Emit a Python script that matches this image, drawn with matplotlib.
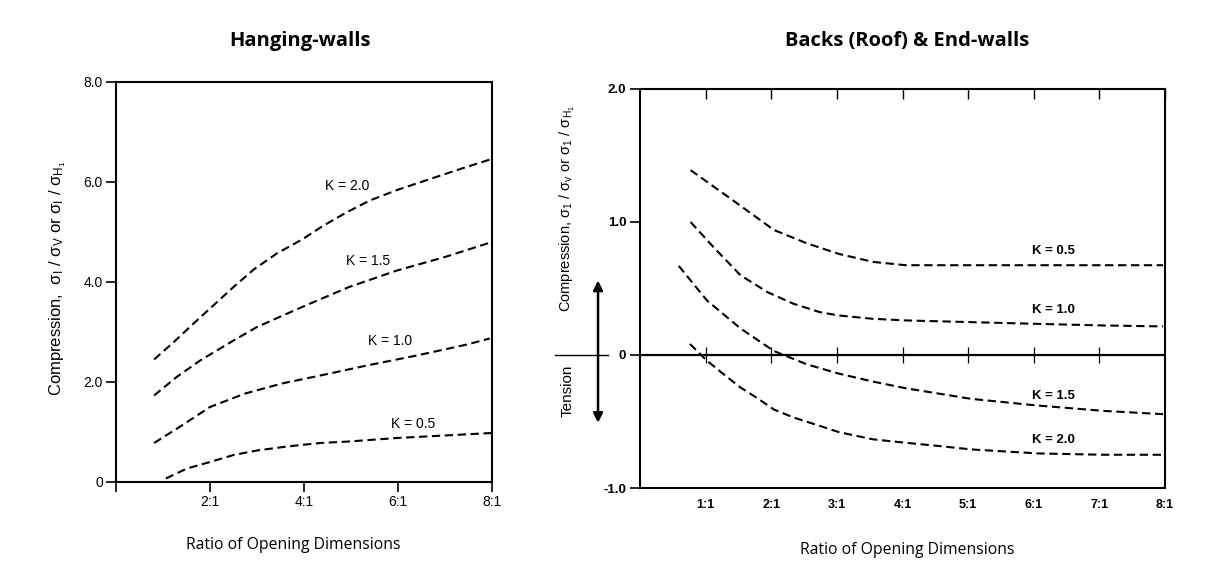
import numpy as np
import matplotlib.pyplot as plt

plt.rcParams['font.family'] = ['Liberation Sans', 'DejaVu Sans']
plt.rcParams['mathtext.fontset'] = 'custom'
plt.rcParams['mathtext.rm'] = 'Liberation Sans'
plt.rcParams['mathtext.it'] = 'Liberation Sans:italic'
plt.rcParams['mathtext.default'] = 'regular'

# --- hanging-walls ---
hw_x_k20 = [0.81, 1.23, 1.65, 2.0, 2.5, 2.93, 3.42, 3.96, 4.4, 4.92, 5.4, 5.98, 6.62, 7.26, 7.96]
hw_k20 = [2.45, 2.80, 3.17, 3.47, 3.90, 4.25, 4.57, 4.85, 5.12, 5.40, 5.63, 5.84, 6.04, 6.24, 6.45]
hw_x_k15 = [0.81, 1.29, 1.79, 2.5, 3.0, 3.96, 4.96, 5.98, 7.0, 8.0]
hw_k15 = [1.73, 2.10, 2.43, 2.83, 3.10, 3.50, 3.90, 4.23, 4.50, 4.80]
hw_x_k10 = [0.81, 1.4, 2.0, 2.75, 3.53, 4.35, 5.34, 6.4, 7.47, 7.95]
hw_k10 = [0.78, 1.13, 1.50, 1.77, 1.97, 2.13, 2.33, 2.53, 2.75, 2.87]
hw_x_k05 = [1.06, 1.51, 2.0, 2.5, 3.0, 3.64, 4.35, 4.96, 5.98, 7.0, 8.0]
hw_k05 = [0.07, 0.27, 0.40, 0.54, 0.63, 0.71, 0.78, 0.81, 0.88, 0.93, 0.98]
hw_labels = ['K = 2.0', 'K = 1.5', 'K = 1.0', 'K = 0.5']
hw_xticks = [0, 2, 4, 6, 8]
hw_xticklabels = ['', '2:1', '4:1', '6:1', '8:1']
hw_yticks = [0, 2, 4, 6, 8]
hw_yticklabels = ['0', '2.0', '4.0', '6.0', '8.0']

# --- backs (roof) & end-walls ---
bk_x_k05 = [0.77, 1.41, 2.04, 2.54, 3.03, 3.55, 4.05, 5, 6, 7, 7.97]
bk_k05 = [1.39, 1.165, 0.94, 0.84, 0.76, 0.70, 0.675, 0.675, 0.675, 0.675, 0.675]
bk_x_k10 = [0.77, 1.14, 1.53, 1.94, 2.34, 2.74, 3.03, 3.55, 4.05, 5.05, 6.06, 7.06, 7.97]
bk_k10 = [1.0, 0.80, 0.60, 0.473, 0.385, 0.322, 0.297, 0.272, 0.26, 0.247, 0.234, 0.222, 0.215]
bk_x_k15 = [0.59, 1.02, 1.53, 2.04, 2.54, 3.03, 3.55, 4.05, 5.05, 6.06, 7.06, 7.97]
bk_k15 = [0.67, 0.41, 0.20, 0.03, -0.07, -0.14, -0.20, -0.25, -0.33, -0.38, -0.42, -0.445]
bk_x_k20 = [0.76, 1.02, 1.27, 1.53, 1.81, 2.04, 2.34, 2.74, 3.03, 3.55, 4.05, 4.55, 5.05, 6.06, 7.06, 7.97]
bk_k20 = [0.083, -0.043, -0.143, -0.244, -0.332, -0.41, -0.47, -0.533, -0.58, -0.634, -0.66,
          -0.684, -0.71, -0.74, -0.75, -0.75]
bk_labels = ['K = 0.5', 'K = 1.0', 'K = 1.5', 'K = 2.0']
bk_xticks = [1, 2, 3, 4, 5, 6, 7, 8]
bk_xticklabels = ['1:1', '2:1', '3:1', '4:1', '5:1', '6:1', '7:1', '8:1']
bk_yticks = [-1, 0, 1, 2]
bk_yticklabels = ['-1.0', '0', '1.0', '2.0']

dash = (0, (4, 2.2))
title_font = dict(family='Open Sans', fontsize=14.5, fontweight='bold')
xlab_font = dict(family='Open Sans', fontsize=11.3)

fig = plt.figure(figsize=(12.28, 5.85), dpi=100)

# left panel
ax1 = fig.add_axes([0.0945, 0.1761, 0.3062, 0.6838])
for xs, ys in [(hw_x_k20, hw_k20), (hw_x_k15, hw_k15), (hw_x_k10, hw_k10), (hw_x_k05, hw_k05)]:
    ax1.plot(xs, ys, color='k', lw=1.5, linestyle=dash)
ax1.set_xlim(0, 8)
ax1.set_ylim(0, 8)
ax1.set_xticks(hw_xticks, hw_xticklabels)
ax1.set_yticks(hw_yticks, hw_yticklabels)
ax1.tick_params(direction='out', length=7.5, width=1.2, labelsize=10, pad=2)
for sp in ax1.spines.values():
    sp.set_linewidth(1.5)
for lab, lx, ly in zip(hw_labels, [4.91, 5.37, 5.84, 6.33], [5.91, 4.41, 2.82, 1.15]):
    ax1.text(lx, ly, lab, ha='center', va='center', fontsize=10)
fig.text(58 / 1228, 1 - 278 / 585,
         r'Compression,  σ$_{\rm I}$ / σ$_{\rm V}$ or σ$_{\rm I}$ / σ$_{\rm H_1}$',
         rotation=90, ha='center', va='center', fontsize=12)

fig.text(300 / 1228, 1 - 41 / 585, 'Hanging-walls', ha='center', va='center', **title_font)
fig.text(293 / 1228, 1 - 545 / 585, 'Ratio of Opening Dimensions', ha='center', va='center', **xlab_font)

# right panel
ax2 = fig.add_axes([0.5212, 0.1658, 0.4275, 0.6821])
for xs, ys in [(bk_x_k05, bk_k05), (bk_x_k10, bk_k10), (bk_x_k15, bk_k15), (bk_x_k20, bk_k20)]:
    ax2.plot(xs, ys, color='k', lw=1.5, linestyle=dash)
ax2.set_xlim(0, 8)
ax2.set_ylim(-1, 2)
ax2.set_xticks(bk_xticks, bk_xticklabels, fontweight='bold')
ax2.set_yticks(bk_yticks, bk_yticklabels, fontweight='bold')
ax2.tick_params(axis='x', top=True, bottom=False, direction='in', length=7, width=1,
                labelsize=9, pad=8)
ax2.tick_params(axis='y', direction='out', length=7, width=1.2, labelsize=9.5, pad=3)
for sp in ax2.spines.values():
    sp.set_linewidth(1.5)

# zero line with crossing ticks, carried left past the arrow
ax2.axhline(0, color='k', lw=1.6)
ax2.plot(bk_xticks[:-1], np.zeros(len(bk_xticks) - 1), linestyle='none', marker='|',
         ms=11, mew=0.9, color='k')
ax2.plot([-1.3, -0.49], [0, 0], color='k', lw=1.0, clip_on=False)
ax2.annotate('', xy=(-0.64, 0.56), xytext=(-0.64, -0.51), xycoords='data',
             arrowprops=dict(arrowstyle='<|-|>', color='k', lw=1.8,
                             mutation_scale=14, shrinkA=0, shrinkB=0),
             annotation_clip=False)
ax2.text(-1.11, 1.105, r'Compression, σ$_1$ / σ$_v$ or σ$_1$ / σ$_{H_1}$', rotation=90,
         ha='center', va='center', fontsize=10.5)
ax2.text(-1.11, -0.27, 'Tension', rotation=90, ha='center', va='center', fontsize=11)

for lab, ly in zip(bk_labels, [0.78, 0.34, -0.31, -0.64]):
    ax2.text(6.3, ly, lab, ha='center', va='center', fontsize=9.5, fontweight='bold')

fig.text(907 / 1228, 1 - 41 / 585, 'Backs (Roof) & End-walls', ha='center', va='center', **title_font)
fig.text(907 / 1228, 1 - 550 / 585, 'Ratio of Opening Dimensions', ha='center', va='center', **xlab_font)

fig.savefig('out.png', dpi=100)
